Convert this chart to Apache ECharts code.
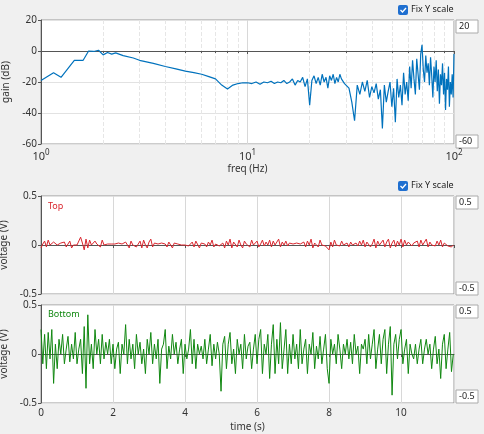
<!DOCTYPE html>
<html><head><meta charset="utf-8">
<script src="https://cdn.jsdelivr.net/npm/echarts@6/dist/echarts.min.js"></script>
<style>html,body{margin:0;padding:0;background:#f0f0f0}#c{width:484px;height:434px}</style>
</head><body><div id="c"></div>
<script>
const lowFreq=[1,1.15,1.25,1.45,1.6,1.7,1.8,1.9,2.0,2.1,2.2,2.3,2.5,2.8,3,3.5,4,4.5,5,5.5,6,6.5,7,7.5,8,8.5,9,9.5];
const lowGain=[-19,-14,-17,-6,-6,0,-0.3,0.5,-2.5,-1,-2,-1.2,-3,-4.5,-6,-8,-10,-11.5,-13,-14,-15,-16.5,-18,-22,-24.5,-22,-21,-20.5];
const midFreqStart=10, midStep=0.5;
const midGain=[-20.5,-21,-20,-21.5,-20,-20.5,-19.5,-21,-20,-20.5,-19,-21,-20,-18,-22,-19,-20,-17,-23,-18,-35,-19,-16,-21,-17,-22,-15,-20,-17,-24,-16,-19,-15,-21,-17,-20,-15,-18,-17,-21,-22];
const highFreqStart=31, highStep=1;
const highGain=[-24,-33,-45,-22,-28,-20,-26,-19,-30,-23,-27,-21,-31,-25,-50,-22,-33,-26,-20,-36,-24,-46,-18,-30,-22,-35,-14,-28,-20,-32,-10,-24,-6,-18,-28,-5,-15,-25,-2,4,-12,-20,-3,-14,-8,-22,-4,-16,-30,-10,-20,-6,-26,-12,-34,-15,-22,-8,-28,-14,-38,-18,-25,-10,-36,-20,-28,-15,-30,-2];
const topSignal=[-0.03,0.01,0.04,-0.02,0.05,0.0,-0.02,0.03,0.01,0.0,-0.01,0.02,0.0,0.03,-0.02,0.01,0.04,-0.03,0.0,0.02,
0.0,-0.02,0.08,0.02,-0.05,0.06,-0.03,0.05,0.0,-0.02,0.04,0.01,0.03,-0.02,0.05,0.0,-0.01,0.01,0.0,0.01,
0.0,0.01,-0.01,0.02,0.0,0.01,-0.01,0.03,0.05,-0.03,0.04,0.0,0.02,-0.02,0.01,0.04,-0.03,0.05,0.0,-0.03,
0.03,0.06,-0.02,0.02,0.0,0.01,-0.01,0.02,0.0,0.01,-0.02,0.03,0.05,-0.03,0.02,0.0,0.01,-0.01,0.0,0.01,
0.0,0.02,-0.01,0.01,0.03,-0.02,0.04,0.05,-0.03,0.02,0.0,0.01,-0.02,0.03,0.0,0.05,-0.02,0.01,0.03,-0.01,
0.0,0.02,-0.03,0.04,0.0,0.06,-0.03,0.03,0.02,-0.02,0.05,0.0,-0.03,0.04,0.01,0.03,-0.02,0.05,0.0,-0.02,
0.04,-0.02,0.01,0.05,-0.01,0.03,0.0,0.05,-0.02,0.04,0.0,0.02,0.06,-0.02,0.03,0.0,0.04,-0.01,0.02,0.0,
0.01,-0.01,0.02,0.0,0.01,0.0,0.03,-0.02,0.04,0.0,0.06,-0.03,0.02,0.03,-0.02,0.05,0.0,0.02,-0.01,0.01,
-0.05,0.03,-0.02,0.05,0.0,0.02,-0.01,0.04,0.0,0.01,0.02,-0.02,0.03,0.0,0.01,0.02,-0.01,0.04,0.0,0.05,
-0.02,0.03,0.05,-0.02,0.01,0.06,-0.03,0.04,0.0,0.02,0.05,-0.02,0.03,0.06,-0.03,0.02,0.05,-0.02,0.04,0.0,
0.06,-0.02,0.05,0.0,0.03,0.05,-0.01,0.02,0.0,0.04,-0.02,0.05,0.0,0.02,0.06,-0.02,0.03,0.0,0.01,-0.01,
0.04,0.0,0.05,-0.02,0.02,0.0,-0.01,0.01,-0.02,0.0];
const bottomSignal=[0.25,-0.1,0.2,-0.15,0.22,-0.05,0.25,-0.3,0.1,-0.15,0.15,0.0,0.2,-0.1,0.05,0.18,-0.08,0.1,-0.05,0.22,
-0.1,0.05,0.15,-0.2,0.28,-0.35,0.4,-0.1,0.1,-0.15,0.25,0.0,0.15,-0.1,0.2,-0.05,0.12,0.0,0.15,-0.1,
0.1,-0.15,0.05,0.12,-0.2,0.1,0.0,0.3,-0.1,0.15,-0.05,0.1,-0.15,0.2,0.0,0.12,-0.1,0.05,-0.2,0.15,
0.0,0.22,-0.1,0.1,-0.05,0.15,-0.3,0.05,0.1,0.25,-0.15,0.08,-0.05,0.2,0.0,0.12,-0.1,0.05,0.15,-0.2,
0.1,-0.05,0.05,0.25,-0.1,0.15,-0.15,0.1,0.0,0.08,-0.05,0.15,-0.1,0.05,0.2,-0.12,0.1,-0.05,0.12,0.0,
-0.38,0.1,0.18,-0.15,0.1,0.22,-0.1,0.05,-0.2,0.15,0.0,0.1,-0.15,0.2,-0.05,0.08,0.12,-0.15,0.05,0.2,
-0.1,0.15,0.25,-0.2,0.1,0.0,0.2,-0.25,0.1,0.3,-0.2,0.15,-0.1,0.32,-0.15,0.05,0.25,-0.2,0.1,-0.1,
0.2,-0.05,0.1,-0.15,0.25,-0.1,0.05,0.15,-0.2,0.1,0.0,0.22,-0.15,0.08,-0.05,0.18,-0.1,0.05,0.2,-0.15,
-0.3,0.15,0.0,0.1,-0.1,0.2,0.05,-0.15,0.1,0.0,0.15,-0.05,0.12,-0.1,0.2,0.0,0.08,-0.2,0.1,0.05,
0.15,-0.1,0.2,-0.05,0.1,0.25,-0.15,0.05,0.2,-0.1,0.15,0.25,-0.2,0.1,0.28,-0.42,0.1,0.2,-0.05,0.15,
0.25,-0.1,0.05,0.15,-0.2,0.1,0.0,-0.05,0.1,-0.1,0.05,0.15,-0.1,0.05,0.15,0.0,0.1,-0.15,0.05,0.18,
-0.1,0.05,-0.25,0.1,0.2,-0.15,0.05,0.22,-0.18,0.0];
const timeStep=0.05;

const gainData=[];
lowFreq.forEach((f,i)=>gainData.push([f,lowGain[i]]));
midGain.forEach((g,i)=>gainData.push([midFreqStart+i*midStep,g]));
highGain.forEach((g,i)=>gainData.push([highFreqStart+i*highStep,g]));
const topData=topSignal.map((v,i)=>[+(i*timeStep).toFixed(2),v]);
const botData=bottomSignal.map((v,i)=>[+(i*timeStep).toFixed(2),v]);

const F='Noto Sans';
const lab={color:'#333',fontSize:10,fontFamily:F};
const grid={show:true,backgroundColor:'#fff',borderColor:'#999',borderWidth:1,containLabel:false,outerBoundsMode:'none'};
const chart=echarts.init(document.getElementById('c'));
const ySplit={show:true,lineStyle:{color:'#e2e2e2'}};
const yAx=(gi,min,max,iv,name)=>({type:'value',gridIndex:gi,min,max,interval:iv,name,nameLocation:'middle',nameGap:22,
 nameTextStyle:{color:'#333',fontSize:10,fontFamily:F},axisLine:{show:true,lineStyle:{color:'#555'}},axisTick:{show:true,length:3,lineStyle:{color:'#555'}},
 axisLabel:Object.assign({},lab,{margin:4}),splitLine:ySplit});
chart.setOption({
 animation:false,
 grid:[Object.assign({left:41,top:20,width:413,height:124},grid),
       Object.assign({left:41,top:196,width:413,height:98},grid),
       Object.assign({left:41,top:305,width:413,height:98},grid)],
 xAxis:[
  {type:'log',gridIndex:0,min:1,max:100,logBase:10,name:'freq (Hz)',nameLocation:'middle',nameGap:20,
   nameTextStyle:{color:'#333',fontSize:10,fontFamily:F},
   axisLine:{lineStyle:{color:'#555'}},axisTick:{length:3,lineStyle:{color:'#555'}},
   minorTick:{show:true,splitNumber:9,length:2},
   minorSplitLine:{show:true,lineStyle:{color:'#e6e6e6',type:'dashed'}},
   splitLine:{show:true,lineStyle:{color:'#d8d8d8'}},
   axisLabel:{margin:5,formatter:v=>{const e=Math.round(Math.log10(v));return '{b|10}{s|'+e+'}';},
     rich:{b:{fontSize:11,color:'#333',fontFamily:F},s:{fontSize:8,color:'#333',fontFamily:F,verticalAlign:'top',padding:[0,0,8,0]}}}},
  {type:'value',gridIndex:1,min:0,max:11.47,interval:2,axisLine:{lineStyle:{color:'#555'}},axisTick:{length:3},axisLabel:{show:false},
   splitLine:{show:true,lineStyle:{color:'#d8d8d8'}}},
  {type:'value',gridIndex:2,min:0,max:11.47,interval:2,name:'time (s)',nameLocation:'middle',nameGap:19,
   nameTextStyle:{color:'#333',fontSize:10,fontFamily:F},axisLine:{lineStyle:{color:'#555'}},axisTick:{length:3},
   axisLabel:Object.assign({},lab,{margin:5,showMaxLabel:false}),splitLine:{show:true,lineStyle:{color:'#d8d8d8'}}}
 ],
 yAxis:[yAx(0,-60,20,20,'gain (dB)'),yAx(1,-0.5,0.5,0.5,'voltage (V)'),yAx(2,-0.5,0.5,0.5,'voltage (V)')],
 series:[
  {type:'line',xAxisIndex:0,yAxisIndex:0,data:gainData,showSymbol:false,lineStyle:{color:'#0072bd',width:1.2}},
  {type:'line',xAxisIndex:1,yAxisIndex:1,data:topData,showSymbol:false,lineStyle:{color:'#d9262e',width:1}},
  {type:'line',xAxisIndex:2,yAxisIndex:2,data:botData,showSymbol:false,lineStyle:{color:'#118811',width:1}}
 ],
 graphic:[
  ...[[398,5],[398,181]].flatMap(([x,y])=>[
   {type:'rect',shape:{x,y,width:10,height:10,r:2},style:{fill:'#1f6fd0'}},
   {type:'polyline',shape:{points:[[x+2.5,y+5],[x+4.5,y+7],[x+8,y+3]]},style:{stroke:'#fff',lineWidth:1.3,fill:null}},
   {type:'text',x:x+13,y:y,style:{text:'Fix Y scale',fontSize:9,fontFamily:F,fill:'#222'}}]),
  ...[[456,20,'20'],[456,135,'-60'],[456,196,'0.5'],[456,282,'-0.5'],[456,305,'0.5'],[456,390,'-0.5']].flatMap(([x,y,t])=>[
   {type:'rect',shape:{x,y,width:22,height:13},style:{fill:'#fff',stroke:'#aaa',lineWidth:1}},
   {type:'text',x:x+3,y:y+2,style:{text:t,fontSize:9,fontFamily:F,fill:'#222'}}]),
  {type:'text',x:48,y:202,style:{text:'Top',fontSize:9,fontFamily:F,fill:'#d9262e'}},
  {type:'text',x:48,y:310,style:{text:'Bottom',fontSize:9,fontFamily:F,fill:'#118811'}}
 ]
});
</script></body></html>
